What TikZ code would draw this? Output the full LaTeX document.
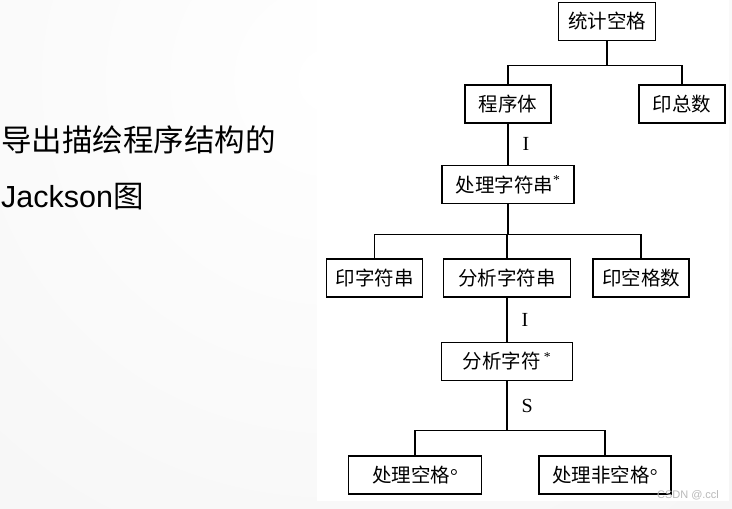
\documentclass[tikz,border=0pt]{standalone}
\usepackage{fontspec}
\setmainfont{Liberation Serif}
\newfontfamily\cjk{Noto Sans CJK SC}
\newfontfamily\arial{Liberation Sans}
\usetikzlibrary{positioning}

\begin{document}
\begin{tikzpicture}[
  x=1pt, y=-1pt,
  box/.style={rectangle, draw, line width=1.1pt, minimum height=38pt, inner sep=0pt, font=\cjk\fontsize{19.5}{22}\selectfont},
  link/.style={line width=1.1pt},
  lbl/.style={font=\fontsize{20}{22}\selectfont, inner sep=0pt},
  title/.style={anchor=west, inner sep=0pt, font=\fontsize{30.5}{34}\selectfont}
]
\useasboundingbox (0,0) rectangle (732,509);

% slide background and pasted picture
\fill[white] (0,0) rectangle (732,509);
\begin{scope}
  \clip (0,0) rectangle (732,509);
  \shade[inner color=white, outer color=gray!11] (330,80) circle (900);
\end{scope}
\fill[white] (317,0) rectangle (729,501);

% slide text
\node[title] (head) at (1,140) {\cjk 导出描绘程序结构的};
\node[title] (sub) at (1,197) {\arial Jackson\cjk 图};

% tree
\node[box, minimum width=97pt] (top) at (607,21.5) {统计空格};
\node[box, minimum width=86pt] (body) at (508,104) {程序体};
\node[box, minimum width=86pt] (total) at (682,104) {印总数};
\node[box, minimum width=132pt] (proc) at (508,184.7) {处理字符串\textsuperscript{\rmfamily *}};
\node[box, minimum width=96pt] (prstr) at (374.5,278) {印字符串};
\node[box, minimum width=127pt] (anastr) at (507,278) {分析字符串};
\node[box, minimum width=96pt] (prcnt) at (641,278) {印空格数};
\node[box, minimum width=131pt] (anachr) at (507,361.3) {分析字符\,\textsuperscript{\rmfamily *}};
\node[box, minimum width=133pt] (space) at (415,475) {处理空格{\rmfamily °}};
\node[box, minimum width=132pt] (nspace) at (605,475) {处理非空格{\rmfamily °}};

% connectors
\draw[link] (top.south) -- ++(0,24) -| (body.north);
\draw[link] (top.south) -- ++(0,24) -| (total.north);
\draw[link] (body.south) -- node[lbl, right=14pt] {I} (proc.north);
\draw[link] (proc.south) -- ++(0,30.6) -| (prstr.north);
\draw[link] (proc.south) -- ++(0,30.6) -| (anastr.north);
\draw[link] (proc.south) -- ++(0,30.6) -| (prcnt.north);
\draw[link] (anastr.south) -- node[lbl, right=14pt] {I} (anachr.north);
\draw[link] (anachr.south) -- node[lbl, right=14pt] {S} ++(0,49.3) -| (space.north);
\draw[link] (anachr.south) -- ++(0,49.3) -| (nspace.north);

% watermark
\node[font=\arial\fontsize{11}{13}\selectfont, text=gray!55, inner sep=0pt] (mark) at (688,495) {CSDN @.ccl};
\end{tikzpicture}
\end{document}
